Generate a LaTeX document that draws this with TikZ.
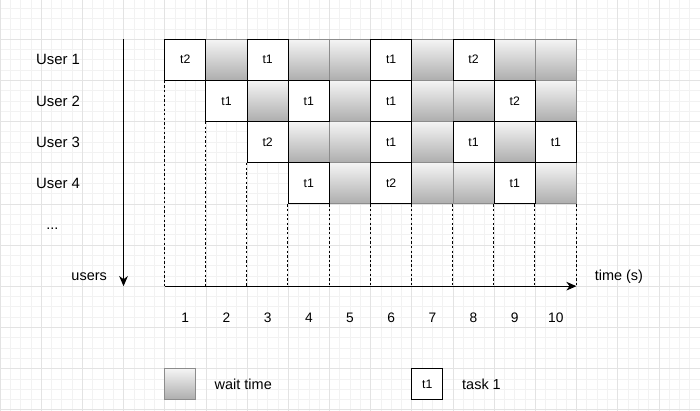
\documentclass[tikz,border=0pt]{standalone}
\usepackage{fontspec}
\setmainfont{Liberation Sans}
\usepackage{tikz}
\usetikzlibrary{arrows,arrows.meta,shapes,positioning}
\tikzstyle{task} = [rectangle, draw, fill=white, minimum size=1cm, inner sep=0pt,
    font=\fontsize{8.5}{10}\selectfont, line width=0.6pt]
\tikzstyle{wait} = [rectangle, draw=black!45, top color=black!4, bottom color=black!32,
    minimum size=1cm, inner sep=0pt, line width=0.6pt]
\tikzstyle{line} = [draw, -{Stealth[length=7pt,width=6pt,inset=2.2pt]}, line width=0.7pt]
\tikzstyle{slot} = [draw, dash pattern=on 1.6pt off 1.6pt, line width=0.6pt]
\tikzstyle{txt} = [font=\fontsize{10}{12}\selectfont]

\begin{document}
\begin{tikzpicture}
\useasboundingbox (0,-0.03) rectangle (17,9.95);
    % Background grid
    \draw [step=0.25, black!5, line width=0.4pt] (0,-0.03) grid (17,9.95);
    \draw [step=1, black!11, line width=0.4pt] (0,-0.03) grid (17,9.95);

    % Place user labels
    \foreach \u in {1,...,4}
        \node [txt, font=\fontsize{10.3}{12}\selectfont] (user\u) at (1.41, 9.5-\u) {User \u};
    \node [txt] (dots) at (1.27, 4.39) {...};

    % Place wait cells
    \foreach \c in {2,4,5,7,9,10} \node [wait] (r1c\c) at (3.5+\c, 8.5) {};
    \foreach \c in {3,5,7,8,10} \node [wait] (r2c\c) at (3.5+\c, 7.5) {};
    \foreach \c in {4,5,7,9} \node [wait] (r3c\c) at (3.5+\c, 6.5) {};
    \foreach \c in {5,7,8,10} \node [wait] (r4c\c) at (3.5+\c, 5.5) {};

    % Place task cells
    \foreach \c/\t in {1/t2,3/t1,6/t1,8/t2} \node [task] (r1c\c) at (3.5+\c, 8.5) {\t};
    \foreach \c/\t in {2/t1,4/t1,6/t1,9/t2} \node [task] (r2c\c) at (3.5+\c, 7.5) {\t};
    \foreach \c/\t in {3/t2,6/t1,8/t1,10/t1} \node [task] (r3c\c) at (3.5+\c, 6.5) {\t};
    \foreach \c/\t in {4/t1,6/t2,9/t1} \node [task] (r4c\c) at (3.5+\c, 5.5) {\t};

    % Axes
    \coordinate (top) at (3,9);
    \coordinate (orig) at (4,3);
    \coordinate (tend) at (14,3);
    \path [line] (top) -- (top |- orig);
    \path [line] (orig) -- (tend);
    \node [txt, anchor=east] (users) at (2.72, 3.22) {users};
    \node [txt, anchor=west] (time) at (14.32, 3.22) {time (s)};

    % Draw time slots
    \path [slot] (r1c1.south west) -- (r1c1.south west |- orig);
    \path [slot] (r2c2.south west) -- (r2c2.south west |- orig);
    \path [slot] (r3c3.south west) -- (r3c3.south west |- orig);
    \foreach \c in {4,...,10}
        \path [slot] (r4c\c.south west) -- (r4c\c.south west |- orig);
    \path [slot] (r4c10.south east) -- (r4c10.south east |- orig);
    \foreach \c in {1,...,10}
        \node [txt, font=\fontsize{9.5}{11}\selectfont] (num\c) at (3.5+\c, 2.24) {\c};

    % Legend
    \node [wait, minimum size=0.75cm] (keywait) at (4.375, 0.625) {};
    \node [txt, right=0.33cm of keywait] (keywaittxt) {wait time};
    \node [task, minimum size=0.75cm] (keytask) at (10.375, 0.625) {t1};
    \node [txt, right=0.34cm of keytask] (keytasktxt) {task 1};
\end{tikzpicture}
\end{document}
